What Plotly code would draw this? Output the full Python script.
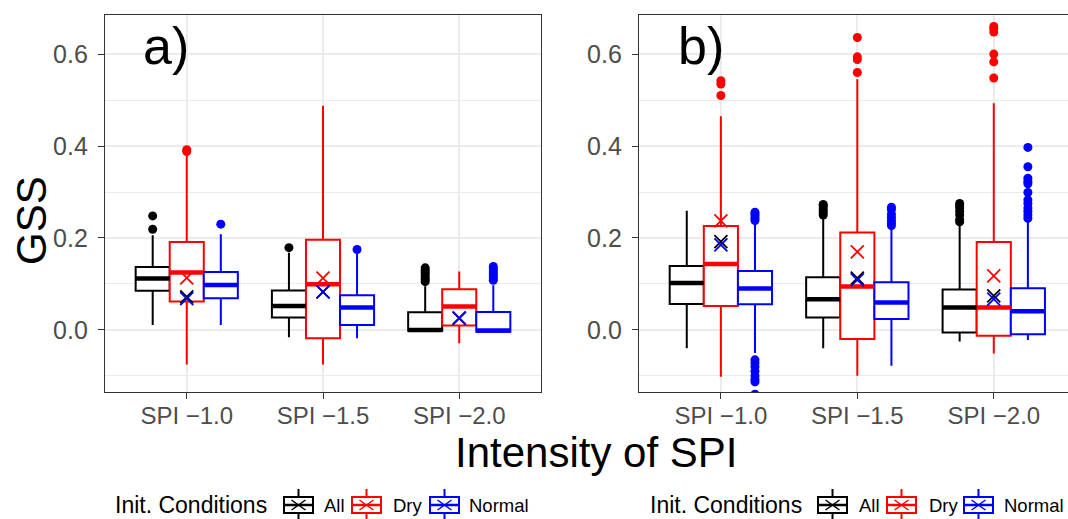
import plotly.graph_objects as go

W, H = 1068, 519

categories = ["SPI \u22121.0", "SPI \u22121.5", "SPI \u22122.0"]
groups = ["All", "Dry", "Normal"]
colors = {"All": "#000000", "Dry": "#FF0000", "Normal": "#0000FF"}
offsets = {"All": -0.25, "Dry": 0.0, "Normal": 0.25}

# ---- panel a) statistics per intensity ----
a_q1 = {"All": [0.085, 0.027, -0.002], "Dry": [0.062, -0.018, 0.0094], "Normal": [0.069, 0.011, -0.004]}
a_median = {"All": [0.112, 0.052, 0.0], "Dry": [0.125, 0.0995, 0.0508], "Normal": [0.098, 0.049, -0.001]}
a_q3 = {"All": [0.137, 0.086, 0.0385], "Dry": [0.1915, 0.196, 0.0886], "Normal": [0.126, 0.0755, 0.039]}
a_low = {"All": [0.011, -0.016, -0.003], "Dry": [-0.075, -0.075, -0.029], "Normal": [0.011, -0.018, -0.004]}
a_high = {"All": [0.206, 0.168, 0.095], "Dry": [0.383, 0.4875, 0.127], "Normal": [0.208, 0.165, 0.097]}
a_mean = {"All": [0.072, 0.083, 0.025], "Dry": [0.113, 0.1125, 0.026], "Normal": [0.068, 0.083, 0.0255]}
a_outliers = {
    "All": [[0.219, 0.248], [0.179], [0.105, 0.11, 0.115, 0.12, 0.125, 0.13, 0.135]],
    "Dry": [[0.388, 0.392], [], []],
    "Normal": [[0.23], [0.175], [0.108, 0.113, 0.118, 0.123, 0.128, 0.133, 0.138]],
}

# ---- panel b) statistics per intensity ----
b_q1 = {"All": [0.0566, 0.0268, -0.0058], "Dry": [0.052, -0.0196, -0.0124], "Normal": [0.056, 0.024, -0.0094]}
b_median = {"All": [0.102, 0.0668, 0.049], "Dry": [0.1436, 0.0943, 0.049], "Normal": [0.090, 0.0595, 0.0406]}
b_q3 = {"All": [0.139, 0.1147, 0.0877], "Dry": [0.226, 0.2118, 0.1915], "Normal": [0.128, 0.1037, 0.0907]}
b_low = {"All": [-0.040, -0.040, -0.025], "Dry": [-0.1016, -0.0994, -0.051], "Normal": [-0.05, -0.078, -0.0218]}
b_high = {"All": [0.259, 0.244, 0.226], "Dry": [0.465, 0.545, 0.4933], "Normal": [0.232, 0.22, 0.235]}
b_mean = {"All": [0.192, 0.1125, 0.074], "Dry": [0.237, 0.170, 0.1175], "Normal": [0.185, 0.109, 0.067]}
b_outliers = {
    "All": [[], [0.25, 0.255, 0.26, 0.265, 0.27, 0.273],
            [0.235, 0.24, 0.25, 0.258, 0.265, 0.27, 0.275]],
    "Dry": [[0.51, 0.535, 0.542], [0.56, 0.588, 0.594, 0.636],
            [0.548, 0.583, 0.6, 0.648, 0.655, 0.66]],
    "Normal": [[0.238, 0.243, 0.248, 0.252, 0.256,
                -0.065, -0.072, -0.08, -0.09, -0.1, -0.108, -0.113, -0.14],
               [0.227, 0.232, 0.238, 0.245, 0.252, 0.262, 0.267],
               [0.243, 0.25, 0.258, 0.265, 0.275, 0.283, 0.299, 0.318, 0.323, 0.33, 0.355, 0.397]],
}

y_ticks = [0.0, 0.2, 0.4, 0.6]
y_minor = [-0.1, 0.1, 0.3, 0.5]
y_range = [-0.135, 0.685]

BOX_W = 0.25
FONT = "Liberation Sans, Arial, sans-serif"
GRID = "#EBEBEB"
BORDER = "#333333"
TICKTXT = "#4D4D4D"

fig = go.Figure()


def add_panel(xa, ya, q1, med, q3, low, high, mean, outl):
    cat_pos = [i + 1 for i in range(len(categories))]
    for g in groups:
        pos = [p + offsets[g] for p in cat_pos]
        fig.add_trace(go.Box(
            x=pos, q1=q1[g], median=med[g], q3=q3[g],
            lowerfence=low[g], upperfence=high[g],
            width=BOX_W, whiskerwidth=0, boxpoints=False,
            fillcolor="white", line=dict(color=colors[g], width=2),
            xaxis=xa, yaxis=ya, showlegend=False, hoverinfo="skip",
        ))
    for g in groups:
        pos = [p + offsets[g] for p in cat_pos]
        ox, oy = [], []
        for p, vals in zip(pos, outl[g]):
            ox += [p] * len(vals)
            oy += vals
        fig.add_trace(go.Scatter(
            x=ox, y=oy, mode="markers",
            marker=dict(symbol="circle", size=9, color=colors[g]),
            xaxis=xa, yaxis=ya, showlegend=False, hoverinfo="skip",
        ))
        # thicker median bar
        mx, my = [], []
        for p, m in zip(pos, med[g]):
            mx += [p - BOX_W / 2, p + BOX_W / 2, None]
            my += [m, m, None]
        fig.add_trace(go.Scatter(
            x=mx, y=my, mode="lines", line=dict(color=colors[g], width=4.5),
            xaxis=xa, yaxis=ya, showlegend=False, hoverinfo="skip",
        ))
    for g in groups:
        fig.add_trace(go.Scatter(
            x=cat_pos, y=mean[g], mode="markers",
            marker=dict(symbol="x-thin-open", size=13, color=colors[g],
                        line=dict(color=colors[g], width=1.8)),
            xaxis=xa, yaxis=ya, showlegend=False, hoverinfo="skip",
        ))


add_panel("x", "y", a_q1, a_median, a_q3, a_low, a_high, a_mean, a_outliers)
add_panel("x2", "y2", b_q1, b_median, b_q3, b_low, b_high, b_mean, b_outliers)


def px(x):
    return x / W


def py(y):
    return 1 - y / H


xcommon = dict(
    tickvals=[1, 2, 3], ticktext=categories, ticks="outside", ticklen=6,
    tickwidth=1.3, tickcolor=BORDER, showgrid=True, gridcolor=GRID, gridwidth=1.5,
    zeroline=False, showline=True, linecolor=BORDER, linewidth=1.3, mirror=True,
    tickfont=dict(family=FONT, size=24, color=TICKTXT), ticklabelstandoff=-4,
)
ycommon = dict(
    range=y_range, tickvals=y_ticks, ticktext=[f"{v:.1f}" for v in y_ticks],
    ticks="outside", ticklen=6, tickwidth=1.3, tickcolor=BORDER,
    showgrid=True, gridcolor=GRID, gridwidth=1.5, zeroline=False,
    showline=True, linecolor=BORDER, linewidth=1.3,
    minor=dict(tickvals=y_minor, showgrid=True, gridcolor=GRID, gridwidth=0.8, ticks=""),
    tickfont=dict(family=FONT, size=25, color=TICKTXT), ticklabelstandoff=5,
)

fig.update_layout(
    width=W, height=H,
    margin=dict(l=0, r=0, t=0, b=0),
    paper_bgcolor="white", plot_bgcolor="white",
    xaxis=dict(domain=[px(105), px(541)], range=[0.4, 3.6], anchor="y", **xcommon),
    yaxis=dict(domain=[py(392), py(15)], anchor="x", mirror=True, **ycommon),
    xaxis2=dict(domain=[px(639), 1.0], range=[0.4, 3.544], anchor="y2", **xcommon),
    yaxis2=dict(domain=[py(392), py(15)], anchor="x2", mirror=False, **ycommon),
    showlegend=False,
)

annotations = [
    dict(text="a)", x=px(141), y=py(46), xanchor="left", yanchor="middle",
         font=dict(family=FONT, size=52, color="black")),
    dict(text="b)", x=px(676), y=py(46), xanchor="left", yanchor="middle",
         font=dict(family=FONT, size=52, color="black")),
    dict(text="GSS", x=px(31), y=py(221), xanchor="center", yanchor="middle",
         textangle=-90, font=dict(family=FONT, size=42, color="black")),
    dict(text="Intensity of SPI", x=px(596), y=py(452), xanchor="center", yanchor="middle",
         font=dict(family=FONT, size=42, color="black")),
]
shapes = []

# legend keys for each panel: (title left, key lefts, label lefts)
legend_layouts = [
    (113, [284, 352, 430], [322, 391, 467]),
    (648, [818, 887, 964], [857, 927, 1002]),
]
KEY_W, KEY_TOP, KEY_BOT, KEY_MID = 29, 497, 513, 505
for title_x, key_xs, label_xs in legend_layouts:
    annotations.append(dict(text="Init. Conditions", x=px(title_x), y=py(KEY_MID),
                            xanchor="left", yanchor="middle",
                            font=dict(family=FONT, size=23, color="black")))
    for g, kx, lx in zip(groups, key_xs, label_xs):
        c = colors[g]
        cx = kx + KEY_W / 2
        shapes.append(dict(type="rect", xref="paper", yref="paper",
                           x0=px(kx), x1=px(kx + KEY_W), y0=py(KEY_BOT), y1=py(KEY_TOP),
                           line=dict(color=c, width=2), fillcolor="white"))
        for (x0, y0, x1, y1, w) in [
            (cx, 489, cx, KEY_TOP, 2), (cx, KEY_BOT, cx, 522, 2),
            (kx, KEY_MID, kx + KEY_W, KEY_MID, 2.5),
            (cx - 7, KEY_MID - 5, cx + 7, KEY_MID + 5, 1.5),
            (cx - 7, KEY_MID + 5, cx + 7, KEY_MID - 5, 1.5),
        ]:
            shapes.append(dict(type="line", xref="paper", yref="paper",
                               x0=px(x0), y0=py(y0), x1=px(x1), y1=py(y1),
                               line=dict(color=c, width=w)))
        annotations.append(dict(text=g, x=px(lx), y=py(KEY_MID), xanchor="left",
                                yanchor="middle",
                                font=dict(family=FONT, size=18.5, color="black")))

for a in annotations:
    a.setdefault("xref", "paper")
    a.setdefault("yref", "paper")
    a["showarrow"] = False
fig.update_layout(annotations=annotations, shapes=shapes)

fig.write_html("out.html")
